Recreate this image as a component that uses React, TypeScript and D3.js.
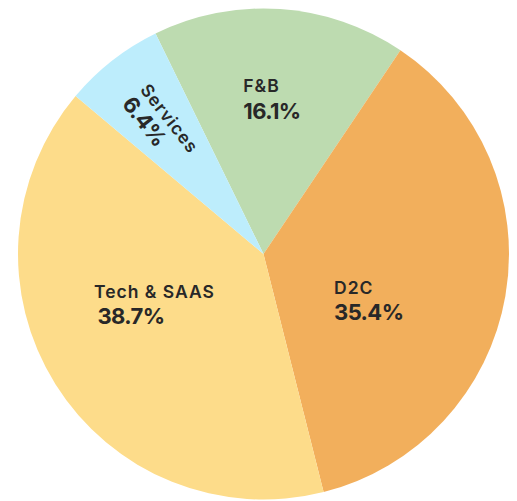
import React from "react";
import * as d3 from "d3";

const categories = ["F&B", "D2C", "Tech & SAAS", "Services"];
const values = [16.1, 35.4, 38.7, 6.4];
const colors = ["#bddbb0", "#f2af5c", "#fddc8a", "#bdedfc"];
// label nudges (px) from each slice centroid to line-1 left baseline
const labelNudge: [number, number][] = [
  [-28.6, -39.2],
  [-50.4, 18.7],
  [-65.5, -21.5],
  [-48.5, -67.3],
];
const valueIndent = [0, 0, 3.5, 0];
const rotatedLabel = [false, false, false, true];

const W = 517;
const H = 501;
const cx = 263.5;
const cy = 254;
const R = 245.5;

export default function App() {
  const pie = d3
    .pie<number>()
    .sort(null)
    .value((d) => d)
    .startAngle((-26.1 * Math.PI) / 180)
    .endAngle((-26.1 * Math.PI) / 180 + 2 * Math.PI);
  const arcs = pie(values);
  const arc = d3.arc<d3.PieArcDatum<number>>().innerRadius(0).outerRadius(R);

  return (
    <div style={{ position: "absolute", left: 0, top: 0 }}>
      <svg width={W} height={H} style={{ display: "block" }}>
        <g transform={`translate(${cx},${cy})`}>
          {arcs.map((a, i) => (
            <path key={i} d={arc(a) || ""} fill={colors[i]} />
          ))}
          {arcs.map((a, i) => {
            const [x0, y0] = arc.centroid(a);
            const x = x0 + labelNudge[i][0];
            const y = y0 + labelNudge[i][1];
            const mid = (a.startAngle + a.endAngle) / 2;
            const rotDeg = rotatedLabel[i] ? (mid * 180) / Math.PI - 270 : 0;
            const spacing = rotatedLabel[i] ? 23 : 26.5;
            return (
              <g
                key={"l" + i}
                transform={`translate(${x},${y}) rotate(${rotDeg})`}
                fill="#282828"
                fontFamily="Inter, 'Noto Sans', sans-serif"
              >
                <text x={0} y={0} fontSize={17.5} fontWeight={600} letterSpacing={1}>
                  {categories[i]}
                </text>
                <text
                  x={valueIndent[i]}
                  y={spacing}
                  fontSize={22}
                  fontWeight={700}
                  letterSpacing={-0.6}
                >
                  {values[i].toFixed(1)}%
                </text>
              </g>
            );
          })}
        </g>
      </svg>
    </div>
  );
}
